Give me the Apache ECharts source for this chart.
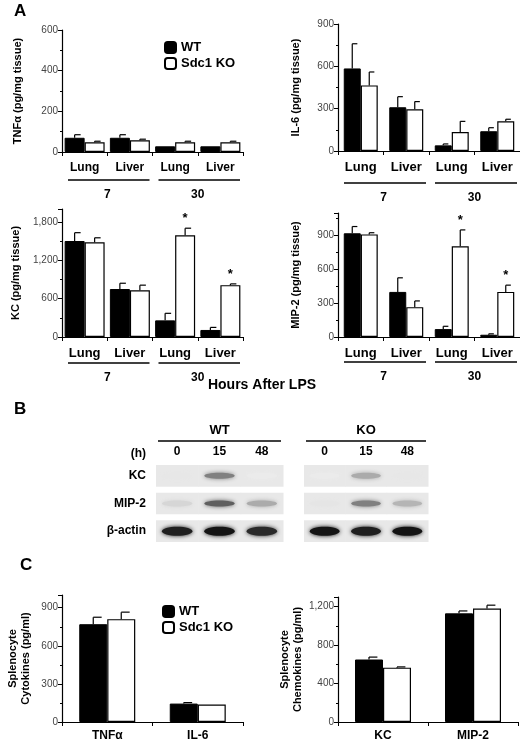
<!DOCTYPE html>
<html>
<head>
<meta charset="utf-8">
<script src="https://cdn.jsdelivr.net/npm/echarts@6/dist/echarts.min.js"></script>
<style>html,body{margin:0;padding:0;background:#fff}#chart{width:520px;height:742px}</style>
</head>
<body>
<div id="chart"></div>
<script>
// panel A categories
var tissues = ['Lung', 'Liver', 'Lung', 'Liver'];
var hours = ['7', '30'];
// TNFa
var tnfWT = [70, 70, 28, 28], tnfWTErr = [15, 15, 0, 0];
var tnfKO = [48, 58, 48, 48], tnfKOErr = [5, 5, 5, 5];
// IL-6
var il6WT = [585, 310, 40, 140], il6WTErr = [175, 75, 10, 25];
var il6KO = [465, 295, 135, 210], il6KOErr = [95, 55, 75, 15];
// KC
var kcWT = [1500, 750, 260, 110], kcWTErr = [130, 90, 110, 40];
var kcKO = [1480, 730, 1590, 810], kcKOErr = [70, 80, 110, 20];
var kcSig = [0, 0, 1, 1];
// MIP-2
var mipWT = [920, 400, 70, 20], mipWTErr = [60, 125, 25, 8];
var mipKO = [910, 265, 805, 400], mipKOErr = [15, 55, 145, 60];
var mipSig = [0, 0, 1, 1];
// panel B gel (band intensity 0..1)
var lanes = ['0', '15', '48'];
var genes = ['KC', 'MIP-2', 'β-actin'];
var gelWT = [[0.02, 0.5, 0.0], [0.1, 0.65, 0.3], [0.95, 1.0, 0.9]];
var gelKO = [[0.0, 0.3, 0.02], [0.03, 0.5, 0.25], [1.0, 0.95, 1.0]];
// panel C
var cytoCats = ['TNFα', 'IL-6'];
var cytoWT = [770, 145], cytoWTErr = [55, 8];
var cytoKO = [810, 138], cytoKOErr = [55, 0];
var chemoCats = ['KC', 'MIP-2'];
var chemoWT = [650, 1130], chemoWTErr = [25, 25];
var chemoKO = [565, 1180], chemoKOErr = [8, 35];

var myChart = echarts.init(document.getElementById('chart'));
var FONT = 'Liberation Sans, Arial, sans-serif';
var option = {
    animation: false,
    backgroundColor: '#fff',
    grid: [], xAxis: [], yAxis: [], series: [], graphic: [],
    legend: []
};

function errRender(barW, side, sig) {
    return function(params, api) {
        var i = api.value(0), v = api.value(1), e = api.value(2);
        var c = api.coord([i, v]);
        var x = c[0] + side * barW / 2;
        var top = api.coord([i, v + e])[1];
        var cap = barW * 0.3;
        var kids = [];
        if (e > 0) {
            kids.push({type: 'line', shape: {x1: x, y1: c[1], x2: x, y2: top}, style: {stroke: '#000', lineWidth: 1.2}});
            kids.push({type: 'line', shape: {x1: x, y1: top, x2: x + cap, y2: top}, style: {stroke: '#000', lineWidth: 1.2}});
        }
        if (sig && sig[i]) {
            kids.push({type: 'text', style: {x: x, y: top - 3, text: '*', fill: '#000', font: 'bold 13px ' + FONT, align: 'center', verticalAlign: 'bottom'}});
        }
        return {type: 'group', children: kids};
    };
}

function barPanel(p) {
    var gi = option.grid.length;
    option.grid.push({left: p.left, width: p.width, top: p.top, height: p.height});
    option.xAxis.push({
        type: 'category', gridIndex: gi, data: p.cats,
        axisLine: {lineStyle: {color: '#000', width: 1.2}},
        axisTick: {show: true, length: 4, lineStyle: {color: '#000'}},
        axisLabel: {color: '#000', fontWeight: 'bold', fontSize: p.catSize || 12, fontFamily: FONT, margin: p.catMargin || 10}
    });
    option.yAxis.push({
        type: 'value', gridIndex: gi, min: 0, max: p.max, interval: p.interval,
        name: p.name, nameLocation: 'middle', nameGap: p.nameGap, nameRotate: 90,
        nameTextStyle: {color: '#000', fontWeight: 'bold', fontSize: 11, fontFamily: FONT, lineHeight: 13},
        axisLine: {show: true, lineStyle: {color: '#000', width: 1.2}},
        axisTick: {show: true, length: 4, lineStyle: {color: '#000'}},
        minorTick: {show: true, splitNumber: 2, length: 2, lineStyle: {color: '#000'}},
        splitLine: {show: false},
        axisLabel: {color: '#444', fontSize: 10, fontFamily: FONT, showMaxLabel: p.showMax !== false, margin: 4}
    });
    option.series.push({
        name: 'WT', type: 'bar', xAxisIndex: gi, yAxisIndex: gi, data: p.wt, barWidth: p.barW, barGap: '0%',
        itemStyle: {color: '#000', borderColor: '#000', borderWidth: 1}
    });
    option.series.push({
        name: 'Sdc1 KO', type: 'bar', xAxisIndex: gi, yAxisIndex: gi, data: p.ko, barWidth: p.barW,
        itemStyle: {color: '#fff', borderColor: '#000', borderWidth: 1.2}
    });
    option.series.push({
        type: 'custom', xAxisIndex: gi, yAxisIndex: gi, z: 5, renderItem: errRender(p.barW, -1, null),
        data: p.wt.map(function(v, i) { return [i, v, p.wtErr[i]]; })
    });
    option.series.push({
        type: 'custom', xAxisIndex: gi, yAxisIndex: gi, z: 5, renderItem: errRender(p.barW, 1, p.sig),
        data: p.ko.map(function(v, i) { return [i, v, p.koErr[i]]; })
    });
    if (p.groupY) {
        var half = p.width / 2;
        hours.forEach(function(h, k) {
            var x0 = p.left + k * half;
            option.graphic.push({type: 'line', shape: {x1: x0 + 6, y1: p.groupY, x2: x0 + half - 3, y2: p.groupY}, style: {stroke: '#000', lineWidth: 1.5}});
            option.graphic.push({type: 'text', x: x0 + half / 2, y: p.groupY + 9, style: {text: h, font: 'bold 12px ' + FONT, fill: '#000', align: 'center'}});
        });
    }
}

barPanel({left: 62, width: 181, top: 30, height: 122, cats: tissues, max: 600, interval: 200, name: 'TNFα (pg/mg tissue)', nameGap: 38,
    wt: tnfWT, wtErr: tnfWTErr, ko: tnfKO, koErr: tnfKOErr, barW: 20, groupY: 180});
barPanel({left: 338, width: 182, top: 24, height: 127, cats: tissues, max: 900, interval: 300, name: 'IL-6 (pg/mg tissue)', nameGap: 36,
    wt: il6WT, wtErr: il6WTErr, ko: il6KO, koErr: il6KOErr, barW: 17, groupY: 183, catSize: 13, catMargin: 10});
barPanel({left: 62, width: 181, top: 209, height: 128, cats: tissues, max: 2000, interval: 600, showMax: false, name: 'KC (pg/mg tissue)', nameGap: 40,
    wt: kcWT, wtErr: kcWTErr, ko: kcKO, koErr: kcKOErr, sig: kcSig, barW: 20, groupY: 363, catSize: 13});
barPanel({left: 338, width: 182, top: 213, height: 124, cats: tissues, max: 1100, interval: 300, showMax: false, name: 'MIP-2 (pg/mg tissue)', nameGap: 36,
    wt: mipWT, wtErr: mipWTErr, ko: mipKO, koErr: mipKOErr, sig: mipSig, barW: 17, groupY: 362, catSize: 13});
barPanel({left: 62, width: 181, top: 595, height: 127, cats: cytoCats, max: 1000, interval: 300, showMax: false, name: 'Splenocyte\nCytokines (pg/ml)', nameGap: 30,
    wt: cytoWT, wtErr: cytoWTErr, ko: cytoKO, koErr: cytoKOErr, barW: 28, catMargin: 8});
barPanel({left: 338, width: 180, top: 597, height: 125, cats: chemoCats, max: 1300, interval: 400, showMax: false, name: 'Splenocyte\nChemokines (pg/ml)', nameGap: 34,
    wt: chemoWT, wtErr: chemoWTErr, ko: chemoKO, koErr: chemoKOErr, barW: 28, catMargin: 8});

var legendStyle = {orient: 'vertical', data: ['WT', 'Sdc1 KO'], itemWidth: 11, itemHeight: 11, itemGap: 3,
    textStyle: {fontWeight: 'bold', fontSize: 13, fontFamily: FONT, color: '#000'}, selectedMode: false};
option.legend.push(Object.assign({left: 159, top: 36}, legendStyle));
option.legend.push(Object.assign({left: 157, top: 600}, legendStyle));

// gels
function gelRender(params, api) {
    var lane = api.value(0), row = api.value(1), inten = api.value(2);
    var c = api.coord([lane, row]);
    var s = api.size([1, 1]);
    var h = s[1] - 6;
    var g = Math.round(235 - 215 * inten);
    var bh = row === 2 ? 9 : 6;
    return {type: 'group', children: [
        {type: 'rect', shape: {x: c[0] - s[0] / 2, y: c[1] - h / 2, width: s[0] + 0.5, height: h}, style: {fill: '#e8e8e8'}},
        {type: 'ellipse', shape: {cx: c[0], cy: c[1], rx: s[0] * 0.36, ry: bh / 2},
            style: {fill: 'rgb(' + g + ',' + g + ',' + g + ')', shadowBlur: 4, shadowColor: 'rgb(' + g + ',' + g + ',' + g + ')'}}
    ]};
}
function gelPanel(left, width, title, vals, showRows) {
    var gi = option.grid.length;
    option.grid.push({left: left, width: width, top: 462, height: 83});
    option.xAxis.push({type: 'category', gridIndex: gi, data: lanes, position: 'top',
        axisLine: {show: false}, axisTick: {show: false},
        axisLabel: {color: '#000', fontWeight: 'bold', fontSize: 12, fontFamily: FONT, margin: 4}});
    option.yAxis.push({type: 'category', gridIndex: gi, data: genes, inverse: true,
        axisLine: {show: false}, axisTick: {show: false}, splitLine: {show: false},
        axisLabel: {show: showRows, color: '#000', fontWeight: 'bold', fontSize: 12, fontFamily: FONT, margin: 10}});
    var data = [];
    vals.forEach(function(r, ri) { r.forEach(function(v, li) { data.push([li, ri, v]); }); });
    option.series.push({type: 'custom', xAxisIndex: gi, yAxisIndex: gi, renderItem: gelRender, data: data});
    option.graphic.push({type: 'line', shape: {x1: left + 2, y1: 441, x2: left + width - 2, y2: 441}, style: {stroke: '#000', lineWidth: 1.5}});
    option.graphic.push({type: 'text', x: left + width / 2, y: 424, style: {text: title, font: 'bold 13px ' + FONT, fill: '#000', align: 'center'}});
}
gelPanel(156, 127, 'WT', gelWT, true);
gelPanel(304, 124, 'KO', gelKO, false);

option.graphic.push(
    {type: 'text', x: 14, y: 3, style: {text: 'A', font: 'bold 17px ' + FONT, fill: '#000'}},
    {type: 'text', x: 14, y: 401, style: {text: 'B', font: 'bold 17px ' + FONT, fill: '#000'}},
    {type: 'text', x: 20, y: 557, style: {text: 'C', font: 'bold 17px ' + FONT, fill: '#000'}},
    {type: 'text', x: 262, y: 378, style: {text: 'Hours After LPS', font: 'bold 14px ' + FONT, fill: '#000', align: 'center'}},
    {type: 'text', x: 146, y: 448, style: {text: '(h)', font: 'bold 12px ' + FONT, fill: '#000', align: 'right'}}
);

myChart.setOption(option);
</script>
</body>
</html>
